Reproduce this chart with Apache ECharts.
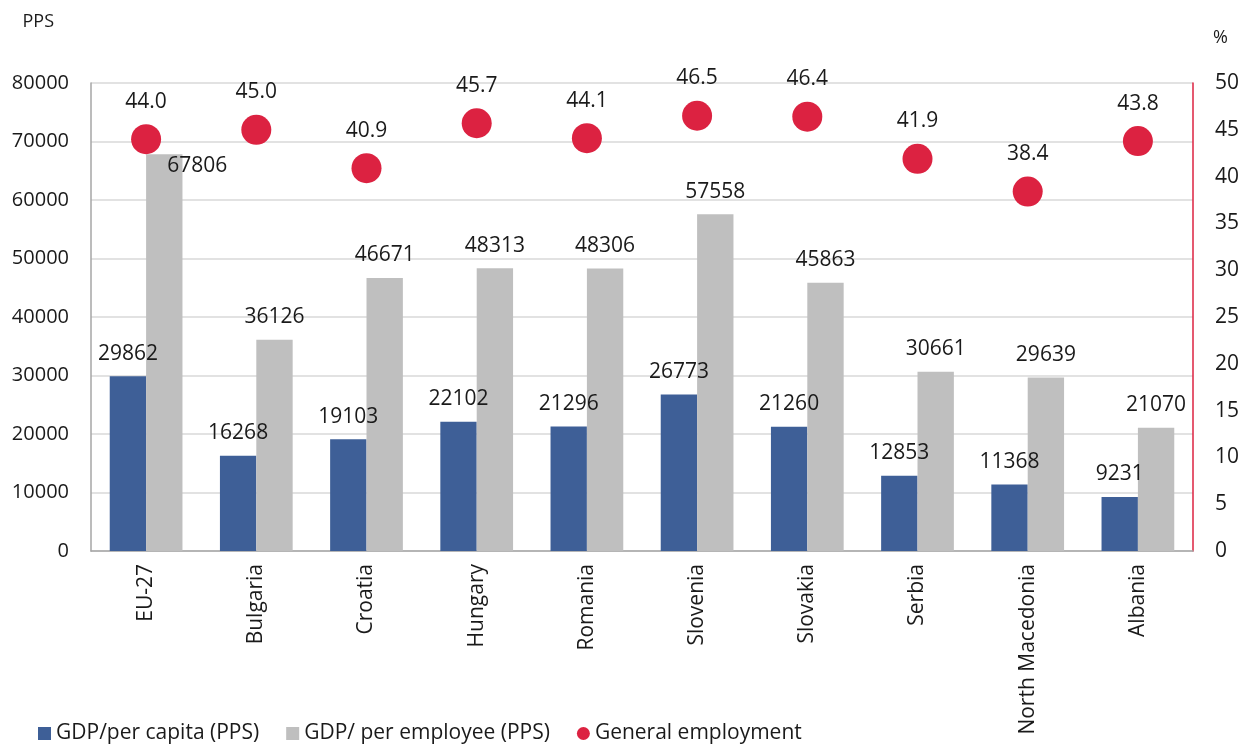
<!DOCTYPE html>
<html>
<head>
<meta charset="utf-8">
<script src="https://cdn.jsdelivr.net/npm/echarts@6/dist/echarts.min.js"></script>
<style>
  html, body { margin: 0; padding: 0; background: #fff; }
  #chart { width: 1249px; height: 746px; }
</style>
</head>
<body>
<div id="chart"></div>
<script>
// Countries compared
const categories = ['EU-27', 'Bulgaria', 'Croatia', 'Hungary', 'Romania', 'Slovenia', 'Slovakia', 'Serbia', 'North Macedonia', 'Albania'];
// GDP per capita, PPS
const gdpPerCapita = [29862, 16268, 19103, 22102, 21296, 26773, 21260, 12853, 11368, 9231];
// GDP per employee, PPS
const gdpPerEmployee = [67806, 36126, 46671, 48313, 48306, 57558, 45863, 30661, 29639, 21070];
// General employment rate, %
const employment = [44.0, 45.0, 40.9, 45.7, 44.1, 46.5, 46.4, 41.9, 38.4, 43.8];

const FONT = "'Open Sans', 'Liberation Sans', sans-serif";
const TEXT = '#1a1a1a';
const BLUE = '#3E5F97';
const GREY = '#BFBFBF';
const RED = '#DC2241';

const chart = echarts.init(document.getElementById('chart'), null, { renderer: 'canvas' });

// The EU-27 employee label sits beside its bar, clear of the employment dot
const employeeData = gdpPerEmployee.map((v, i) => i === 0
  ? { value: v, label: { offset: [33, 34] } }
  : v);

chart.setOption({
  animation: false,
  textStyle: { fontFamily: FONT },
  grid: { left: 91, right: 56, top: 83, bottom: 195, containLabel: false },
  legend: {
    left: 33, bottom: -3,
    itemWidth: 13, itemHeight: 13, itemGap: 27,
    textStyle: { fontFamily: FONT, fontSize: 21, color: TEXT, padding: [0, 0, 0, 0] },
    data: [
      { name: 'GDP/per capita (PPS)', icon: 'rect' },
      { name: 'GDP/ per employee (PPS)', icon: 'rect' },
      { name: 'General employment', icon: 'circle' }
    ]
  },
  xAxis: {
    type: 'category',
    data: categories,
    axisLine: { lineStyle: { color: '#A6A6A6', width: 1.5 } },
    axisTick: { show: false },
    axisLabel: {
      rotate: 90, fontSize: 21, color: TEXT, fontFamily: FONT, margin: 13, interval: 0
    }
  },
  yAxis: [
    {
      type: 'value', min: 0, max: 80000, interval: 10000,
      name: 'PPS', nameLocation: 'end', nameGap: 52,
      nameTextStyle: { fontSize: 18, color: TEXT, fontFamily: FONT, align: 'right', padding: [0, 37, 0, 0] },
      axisLine: { show: true, lineStyle: { color: '#A6A6A6', width: 1.5 } },
      axisTick: { show: false },
      splitLine: { lineStyle: { color: '#D9D9D9', width: 1.5 } },
      axisLabel: { fontSize: 20, color: TEXT, fontFamily: FONT, margin: 22, formatter: v => String(v) }
    },
    {
      type: 'value', min: 0, max: 50, interval: 5,
      name: '%', nameLocation: 'end', nameGap: 36,
      nameTextStyle: { fontSize: 18, color: TEXT, fontFamily: FONT, align: 'left', padding: [0, 0, 0, 20] },
      position: 'right',
      axisLine: { show: true, lineStyle: { color: RED, width: 1.5 } },
      axisTick: { show: false },
      splitLine: { show: false },
      axisLabel: { fontSize: 21, color: TEXT, fontFamily: FONT, margin: 22 }
    }
  ],
  series: [
    {
      name: 'GDP/per capita (PPS)',
      type: 'bar',
      data: gdpPerCapita,
      itemStyle: { color: BLUE },
      barGap: '0%',
      barCategoryGap: '34%',
      label: { show: true, position: 'top', distance: 12, fontSize: 21, color: TEXT, fontFamily: FONT }
    },
    {
      name: 'GDP/ per employee (PPS)',
      type: 'bar',
      data: employeeData,
      itemStyle: { color: GREY },
      barGap: '0%',
      barCategoryGap: '34%',
      label: { show: true, position: 'top', distance: 12, fontSize: 21, color: TEXT, fontFamily: FONT }
    },
    {
      name: 'General employment',
      type: 'scatter',
      yAxisIndex: 1,
      data: employment,
      symbol: 'circle',
      symbolSize: 30,
      itemStyle: { color: RED, opacity: 1 },
      z: 5,
      label: {
        show: true, position: 'top', distance: 12, fontSize: 21, color: TEXT, fontFamily: FONT,
        formatter: p => p.value.toFixed(1)
      }
    }
  ]
});
</script>
</body>
</html>
